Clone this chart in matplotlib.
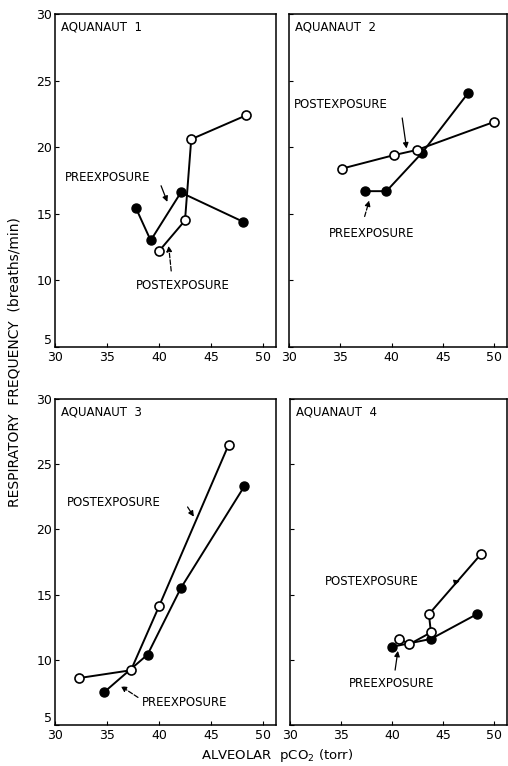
# Respiratory frequency vs alveolar pCO2, four aquanauts, pre/post exposure

import matplotlib
matplotlib.use('Agg')
import matplotlib.pyplot as plt

# Aquanaut 1
a1_pre_x = [37.8, 39.2, 42.1, 48.1]
a1_pre_y = [15.4, 13.0, 16.6, 14.4]
a1_post_x = [40.0, 42.5, 43.1, 48.4]
a1_post_y = [12.2, 14.5, 20.6, 22.4]

# Aquanaut 2
a2_pre_x = [37.4, 39.5, 43.0, 47.5]
a2_pre_y = [16.7, 16.7, 19.6, 24.1]
a2_post_x = [35.2, 40.2, 42.5, 50.0]
a2_post_y = [18.4, 19.4, 19.8, 21.9]

# Aquanaut 3
a3_pre_x = [34.7, 38.9, 42.1, 48.2]
a3_pre_y = [7.5, 10.4, 15.5, 23.3]
a3_post_x = [32.3, 37.3, 40.0, 46.7]
a3_post_y = [8.6, 9.2, 14.1, 26.5]

# Aquanaut 4
a4_pre_x = [40.0, 43.8, 48.3]
a4_pre_y = [11.0, 11.6, 13.5]
a4_post_x = [40.7, 41.7, 43.8, 43.6, 48.7]
a4_post_y = [11.6, 11.2, 12.1, 13.5, 18.1]

X_TICKS = [30, 35, 40, 45, 50]
Y_TICKS = [5, 10, 15, 20, 25, 30]

fig = plt.figure(figsize=(5.08, 7.66), dpi=100)

# [left, bottom, width, height] in figure fractions
positions = [
    [0.1083, 0.547, 0.435, 0.4347],
    [0.5689, 0.547, 0.429, 0.4347],
    [0.1083, 0.0535, 0.435, 0.4256],
    [0.5710, 0.0535, 0.427, 0.4256],
]

panels = [
    (a1_pre_x, a1_pre_y, a1_post_x, a1_post_y),
    (a2_pre_x, a2_pre_y, a2_post_x, a2_post_y),
    (a3_pre_x, a3_pre_y, a3_post_x, a3_post_y),
    (a4_pre_x, a4_pre_y, a4_post_x, a4_post_y),
]

axes = []
for i, (pos, (px, py, qx, qy)) in enumerate(zip(positions, panels)):
    ax = fig.add_axes(pos)
    ax.plot(px, py, '-o', color='black', lw=1.4, ms=6.5,
            mfc='black', mec='black', zorder=3)
    ax.plot(qx, qy, '-o', color='black', lw=1.4, ms=6.5,
            mfc='white', mec='black', mew=1.2, zorder=4)
    ax.set_xlim(30, 51.25)
    ax.set_ylim(5, 30)
    ax.set_xticks(X_TICKS)
    ax.set_yticks(Y_TICKS)
    ax.tick_params(direction='in', length=3, width=0.8, labelsize=9)
    ax.tick_params(axis='x', pad=3)
    ax.tick_params(axis='y', pad=2)
    if i % 2 == 1:
        ax.set_yticklabels([])
    else:
        # lowest y label sits just above the corner, clear of the "30" below
        ax.get_yticklabels()[0].set_va('bottom')
    for s in ax.spines.values():
        s.set_linewidth(1.1)
    ax.text(30.6, 29.0, f'AQUANAUT  {i + 1}', fontsize=8.5, va='center', ha='left')
    axes.append(ax)

arrow = dict(arrowstyle='-|>', lw=0.9, color='black', mutation_scale=8)
lab = dict(fontsize=8.5, va='center', ha='left')

ax1, ax2, ax3, ax4 = axes

ax1.text(30.9, 17.7, 'PREEXPOSURE', **lab)
ax1.annotate('', xy=(40.9, 15.7), xytext=(40.1, 17.3), arrowprops=arrow)
ax1.text(37.8, 9.65, 'POSTEXPOSURE', **lab)
ax1.annotate('', xy=(40.9, 12.8), xytext=(41.2, 10.5),
             arrowprops=dict(arrow, ls='--'))

ax2.text(30.5, 23.2, 'POSTEXPOSURE', **lab)
ax2.annotate('', xy=(41.5, 19.7), xytext=(41.0, 22.4), arrowprops=arrow)
ax2.text(33.9, 13.55, 'PREEXPOSURE', **lab)
ax2.annotate('', xy=(37.9, 16.2), xytext=(37.3, 14.6),
             arrowprops=dict(arrow, ls='--'))

ax3.text(31.1, 22.1, 'POSTEXPOSURE', **lab)
ax3.annotate('', xy=(43.5, 20.8), xytext=(42.6, 21.9), arrowprops=arrow)
ax3.text(38.4, 6.7, 'PREEXPOSURE', **lab)
ax3.annotate('', xy=(36.1, 8.1), xytext=(38.2, 7.0),
             arrowprops=dict(arrow, ls='--'))

ax4.text(33.4, 16.0, 'POSTEXPOSURE', **lab)
ax4.annotate('', xy=(46.9, 16.1), xytext=(45.9, 15.9), arrowprops=arrow)
ax4.text(35.8, 8.15, 'PREEXPOSURE', **lab)
ax4.annotate('', xy=(40.6, 10.9), xytext=(40.25, 9.0), arrowprops=arrow)

fig.text(15 / 508, 1 - 362 / 766, 'RESPIRATORY  FREQUENCY  (breaths/min)',
         rotation=90, fontsize=10, ha='center', va='center')
fig.text(277 / 508, 1 - 755 / 766, r'ALVEOLAR  pCO$_2$ (torr)',
         fontsize=9.5, ha='center', va='center')

fig.savefig('out.png', dpi=100)
